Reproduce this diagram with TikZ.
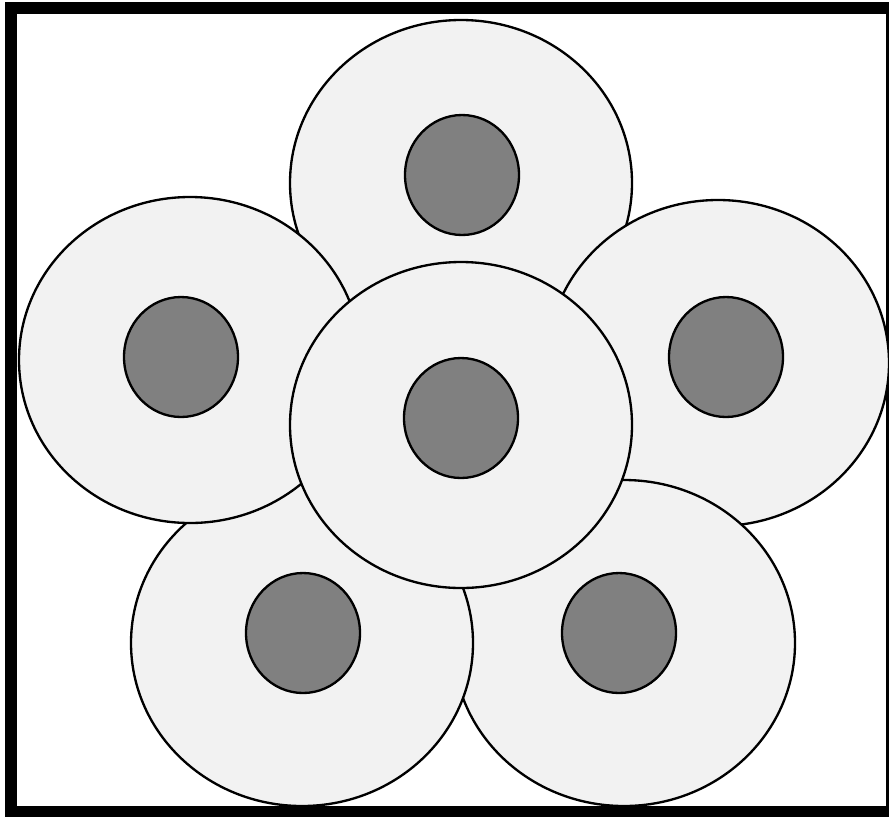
\documentclass[tikz,border=0pt]{standalone}
\usepackage{tikz}
\usetikzlibrary{shapes.geometric}

\definecolor{cellgrey}{HTML}{F2F2F2}
\definecolor{nucgrey}{HTML}{808080}

\tikzset{
    cell/.style={draw,ellipse,fill=cellgrey,line width=0.7mm,inner sep=0pt,
        minimum width=102.6mm,minimum height=97.8mm},
    nucleus/.style={draw,ellipse,fill=nucgrey,line width=0.7mm,inner sep=0pt,
        minimum width=34.2mm,minimum height=36mm}
}

\begin{document}
\begin{tikzpicture}[x=0.3mm,y=-0.3mm]
    \useasboundingbox (0,0) rectangle (889,816);
    \fill[white] (0,0) rectangle (889,816);

    % Frame
    \draw[line width=3.6mm] (11,8) rectangle (892,812);

    % Outer cells, back to front
    \node[cell] (celltop) at (461,183) {};
    \node[cell] (cellright) at (718,363) {};
    \node[cell] (cellbr) at (624,643) {};
    \node[cell] (cellbl) at (302,643) {};
    \node[cell] (cellleft) at (190,360) {};

    % Nuclei of the outer cells
    \node[nucleus] (nuctop) at (462,175) {};
    \node[nucleus] (nucright) at (726,357) {};
    \node[nucleus] (nucbr) at (619,633) {};
    \node[nucleus] (nucbl) at (303,633) {};
    \node[nucleus] (nucleft) at (181,357) {};

    % Middle cell on top
    \node[cell] (cellmid) at (461,425) {};
    \node[nucleus] (nucmid) at (461,418) {};
\end{tikzpicture}
\end{document}
